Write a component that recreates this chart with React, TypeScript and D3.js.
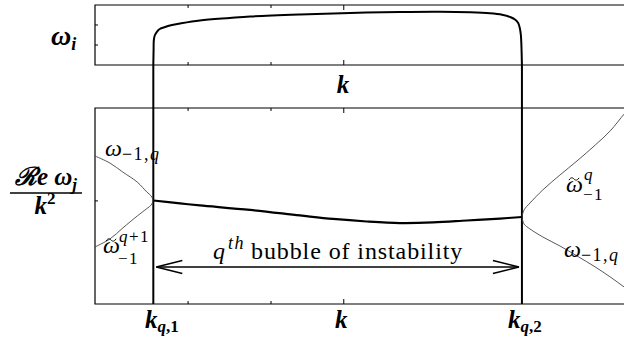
import React from "react";
import * as d3 from "d3";

// Wavenumber positions of the instability bubble edges and axis ticks
const kBounds = [0.109, 0.798];
const kTicks = [0.174, 0.329, 0.465];
const kMajorTick = 0.465;
const growthTicks = [0.333, 0.667];
const freqTicks = [0.526];

// Growth rate omega_i across the bubble [k, value]
const growthRate: [number, number][] = [
  [0.109, 0], [0.1095, 0.25], [0.110, 0.417], [0.112, 0.5], [0.116, 0.558],
  [0.121, 0.6], [0.131, 0.633], [0.144, 0.667], [0.159, 0.692], [0.196, 0.742],
  [0.252, 0.783], [0.29, 0.808], [0.383, 0.842], [0.477, 0.867], [0.57, 0.883],
  [0.645, 0.887], [0.701, 0.878], [0.738, 0.862], [0.761, 0.837], [0.776, 0.8],
  [0.785, 0.758], [0.791, 0.7], [0.794, 0.617], [0.796, 0.5], [0.797, 0.333],
  [0.798, 0],
];

// Real frequency of the merged (unstable) mode inside the bubble
const mergedFreq: [number, number][] = [
  [0.109, 0.528], [0.159, 0.513], [0.196, 0.503], [0.29, 0.48], [0.383, 0.452],
  [0.445, 0.434], [0.508, 0.421], [0.57, 0.413], [0.632, 0.416], [0.695, 0.426],
  [0.757, 0.436], [0.798, 0.444],
];

// Stable branches left of k_{q,1}
const leftUpper: [number, number][] = [
  [0, 0.755], [0.028, 0.719], [0.052, 0.673], [0.079, 0.622], [0.097, 0.571],
  [0.105, 0.551], [0.109, 0.528],
];
const leftLower: [number, number][] = [
  [0.109, 0.528], [0.105, 0.505], [0.097, 0.487], [0.079, 0.449], [0.052, 0.388],
  [0.028, 0.332], [0, 0.291],
];

// Stable branches right of k_{q,2}
const rightUpper: [number, number][] = [
  [0.798, 0.444], [0.802, 0.48], [0.813, 0.515], [0.837, 0.582], [0.869, 0.658],
  [0.901, 0.73], [0.935, 0.811], [0.963, 0.883], [0.989, 0.969], [1.0, 1.0],
];
const rightLower: [number, number][] = [
  [0.798, 0.444], [0.802, 0.408], [0.813, 0.383], [0.837, 0.342], [0.869, 0.296],
  [0.901, 0.245], [0.935, 0.189], [0.963, 0.138], [0.989, 0.087], [1.0, 0.066],
];

const arrowLevel = 0.189;

const W = 624;
const H = 338;
const left = 95;
const right = 630;
const top1 = 5, bottom1 = 65;
const top2 = 108, bottom2 = 304;

const x = d3.scaleLinear().domain([0, 1]).range([left, right]);
const yTop = d3.scaleLinear().domain([0, 1]).range([bottom1, top1]);
const yBot = d3.scaleLinear().domain([0, 1]).range([bottom2, top2]);

const lineTop = d3.line<[number, number]>().x((d) => x(d[0])).y((d) => yTop(d[1])).curve(d3.curveCatmullRom.alpha(0.5));
const lineBot = d3.line<[number, number]>().x((d) => x(d[0])).y((d) => yBot(d[1])).curve(d3.curveCatmullRom.alpha(0.5));

const ts: React.CSSProperties = { fontFamily: "Liberation Serif, Times New Roman, serif" };

// small tilde accent drawn as a path centred at (cx, cy)
function Tilde({ cx, cy }: { cx: number; cy: number }) {
  return (
    <path
      d={`M${cx - 5},${cy + 1.2} C${cx - 3},${cy - 2.5} ${cx - 1},${cy - 1} ${cx},${cy} S${cx + 3},${cy + 2.5} ${cx + 5},${cy - 1.2}`}
      fill="none"
      stroke="#000"
      strokeWidth={1}
    />
  );
}

export default function App() {
  const xa = x(kBounds[0]);
  const xb = x(kBounds[1]);
  const ya = yBot(arrowLevel);
  return (
    <svg width={W} height={H} style={{ position: "absolute", left: 0, top: 0, background: "#fff" }}>
      <defs>
        <clipPath id="plot2">
          <rect x={left} y={top2} width={right - left} height={bottom2 - top2} />
        </clipPath>
      </defs>

      {/* upper panel frame */}
      <path d={`M${right},${top1}H${left}V${bottom1}H${right}`} fill="none" stroke="#000" strokeWidth={1.2} />
      {kTicks.map((t) => {
        const len = t === kMajorTick ? 5 : 3;
        return (
          <g key={"t1" + t}>
            <line x1={x(t)} x2={x(t)} y1={top1} y2={top1 + len} stroke="#000" strokeWidth={1} />
            <line x1={x(t)} x2={x(t)} y1={bottom1} y2={bottom1 - len} stroke="#000" strokeWidth={1} />
          </g>
        );
      })}
      {growthTicks.map((t) => (
        <line key={"g" + t} x1={left} x2={left + 3} y1={yTop(t)} y2={yTop(t)} stroke="#000" strokeWidth={1} />
      ))}
      <path d={lineTop(growthRate) || ""} fill="none" stroke="#000" strokeWidth={2} />

      {/* lower panel frame */}
      <path d={`M${right},${top2}H${left}V${bottom2}H${right}`} fill="none" stroke="#000" strokeWidth={1.2} />
      {kTicks.map((t) => {
        const len = t === kMajorTick ? 5 : 3;
        return (
          <g key={"t2" + t}>
            <line x1={x(t)} x2={x(t)} y1={top2} y2={top2 + len} stroke="#000" strokeWidth={1} />
            <line x1={x(t)} x2={x(t)} y1={bottom2} y2={bottom2 - len} stroke="#000" strokeWidth={1} />
          </g>
        );
      })}
      {freqTicks.map((t) => (
        <line key={"f" + t} x1={left} x2={left + 3} y1={yBot(t)} y2={yBot(t)} stroke="#000" strokeWidth={1} />
      ))}

      {/* bubble edges */}
      {kBounds.map((k) => (
        <line key={"b" + k} x1={x(k)} x2={x(k)} y1={bottom1} y2={bottom2} stroke="#000" strokeWidth={2} />
      ))}

      <g clipPath="url(#plot2)">
        {[leftUpper, leftLower, rightUpper, rightLower].map((s, i) => (
          <path key={"s" + i} d={lineBot(s) || ""} fill="none" stroke="#444" strokeWidth={0.9} />
        ))}
        <path d={lineBot(mergedFreq) || ""} fill="none" stroke="#000" strokeWidth={2.2} />
      </g>

      {/* double arrow spanning the bubble */}
      <g stroke="#000" strokeWidth={1.5} fill="none">
        <line x1={xa + 3} x2={xb - 3} y1={ya} y2={ya} />
        <polyline points={`${xa + 29},${ya - 6.5} ${xa + 3},${ya} ${xa + 29},${ya + 6.5}`} />
        <polyline points={`${xb - 29},${ya - 6.5} ${xb - 3},${ya} ${xb - 29},${ya + 6.5}`} />
      </g>
      <text x={213} y={259} fontSize={24} fill="#000" style={ts}>
        <tspan fontStyle="italic">q</tspan>
        <tspan fontStyle="italic" fontSize={18} dy={-10} dx={3} letterSpacing={1.5}>th</tspan>
        <tspan dy={10} dx={6} letterSpacing={0.9}>bubble of instability</tspan>
      </text>

      {/* axis labels */}
      <text x={51} y={45} fontSize={28} fontStyle="italic" fontWeight="bold" style={ts}>
        ω<tspan fontSize={18} dy={5}>i</tspan>
      </text>
      <text x={343} y={93} fontSize={25} fontStyle="italic" fontWeight="bold" textAnchor="middle" style={ts}>k</text>

      <text x={46} y={185} fontSize={25} fontWeight="bold" textAnchor="middle" style={ts}>
        <tspan fontStyle="italic">ℛ</tspan>
        <tspan fontStyle="italic">e</tspan>
        <tspan fontStyle="italic" dx={6}>ω</tspan>
        <tspan fontStyle="italic" fontSize={17} dy={5}>j</tspan>
      </text>
      <line x1={10} x2={82} y1={193} y2={193} stroke="#000" strokeWidth={1.5} />
      <text x={45} y={214} fontSize={25} fontWeight="bold" fontStyle="italic" textAnchor="middle" style={ts}>
        k<tspan fontSize={17} dy={-10} fontStyle="normal">2</tspan>
      </text>

      <text x={145} y={328} fontSize={25} fontWeight="bold" fontStyle="italic" style={ts}>
        k<tspan fontSize={17} dy={4}>q</tspan><tspan fontSize={17} fontStyle="normal">,1</tspan>
      </text>
      <text x={335} y={328} fontSize={25} fontWeight="bold" fontStyle="italic" style={ts}>k</text>
      <text x={508} y={328} fontSize={25} fontWeight="bold" fontStyle="italic" style={ts}>
        k<tspan fontSize={17} dy={4}>q</tspan><tspan fontSize={17} fontStyle="normal">,2</tspan>
      </text>

      {/* branch labels */}
      <text x={105} y={156} fontSize={24} fontStyle="italic" style={ts}>
        ω<tspan fontSize={18} dy={4} fontStyle="normal" letterSpacing={1.5}>−1,</tspan><tspan fontSize={18}>q</tspan>
      </text>
      <text x={103} y={253} fontSize={24} fontStyle="italic" style={ts}>ω</text>
      <Tilde cx={111} cy={240} />
      <text x={119} y={242} fontSize={17} fontStyle="italic" style={ts} letterSpacing={1.5}>q<tspan fontStyle="normal">+1</tspan></text>
      <text x={118} y={264} fontSize={17} style={ts} letterSpacing={1.5}>−1</text>

      <text x={566} y={192} fontSize={24} fontStyle="italic" style={ts}>ω</text>
      <Tilde cx={574} cy={179} />
      <text x={584} y={180} fontSize={17} fontStyle="italic" style={ts}>q</text>
      <text x={583} y={200} fontSize={17} style={ts} letterSpacing={1.5}>−1</text>

      <text x={564} y={257} fontSize={24} fontStyle="italic" style={ts}>
        ω<tspan fontSize={18} dy={4} fontStyle="normal" letterSpacing={1.5}>−1,</tspan><tspan fontSize={18}>q</tspan>
      </text>
    </svg>
  );
}
